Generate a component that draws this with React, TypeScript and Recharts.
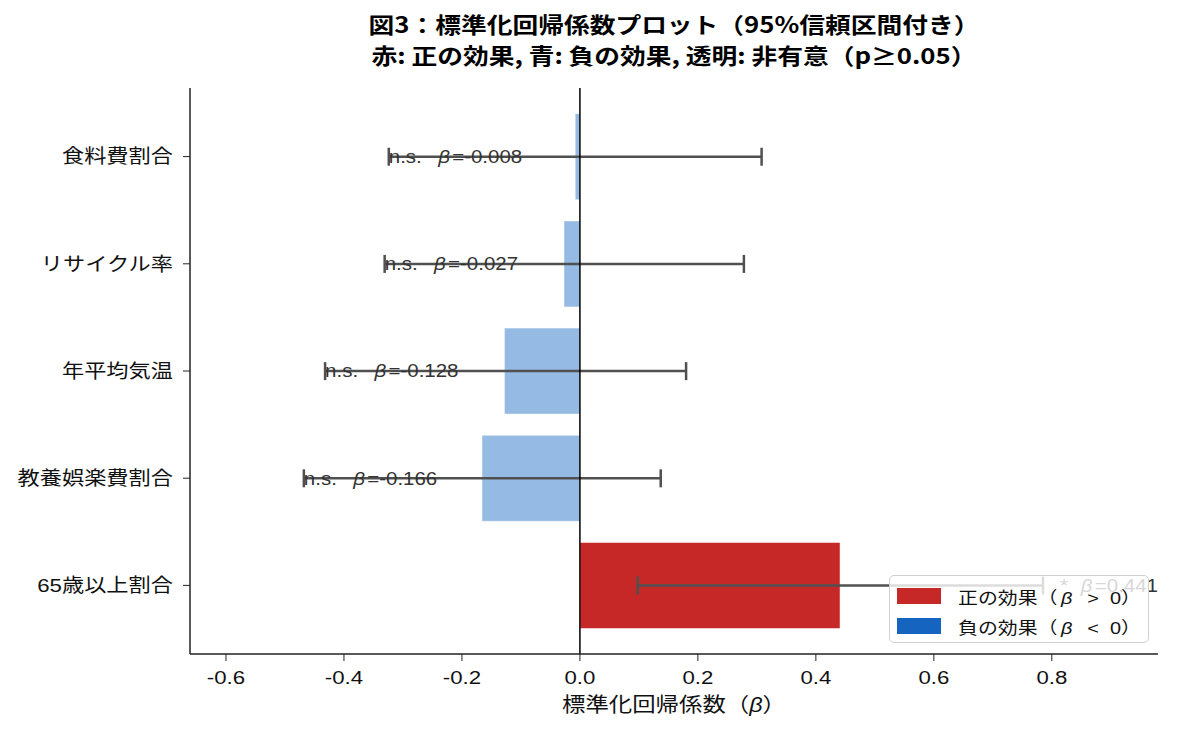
import {
  BarChart,
  Bar,
  XAxis,
  YAxis,
  Cell,
  ErrorBar,
  ReferenceLine,
  ReferenceDot,
  Label,
} from "recharts";

const categories = ["食料費割合", "リサイクル率", "年平均気温", "教養娯楽費割合", "65歳以上割合"];
const betas = [-0.008, -0.027, -0.128, -0.166, 0.441];
const ciLow = [-0.324, -0.331, -0.432, -0.468, 0.098];
const ciHigh = [0.308, 0.278, 0.18, 0.137, 0.785];
const sigMarks = ["n.s.", "n.s.", "n.s.", "n.s.", "*"];
const xTicks = [-0.6, -0.4, -0.2, 0, 0.2, 0.4, 0.6, 0.8];
const legendItems = [
  { label: "正の効果（", sign: " >  0）", color: "#C62828" },
  { label: "負の効果（", sign: " <  0）", color: "#1565C0" },
];

const RED = "#C62828";
const BLUE = "#1565C0";
const FONT = "'Liberation Sans', 'Noto Sans CJK JP', sans-serif";
// the reference glyphs are a little wider than they are tall
const SX = 1.17;

const data = categories.map((name, i) => ({
  name,
  beta: betas[i],
  lo: ciLow[i],
  hi: ciHigh[i],
  err: [betas[i] - ciLow[i], ciHigh[i] - betas[i]],
  sig: sigMarks[i],
}));

type Row = (typeof data)[number];

function SText({ x, y, anchor = "start", children, ...rest }: any) {
  return (
    <g transform={`translate(${x},${y}) scale(${SX},1)`}>
      <text x={0} y={0} textAnchor={anchor} fontFamily={FONT} {...rest}>
        {children}
      </text>
    </g>
  );
}

function betaLabel(props: any, d: Row) {
  const vb = props.viewBox || {};
  const cx = (vb.x ?? 0) + (vb.width ?? 0) / 2;
  const cy = (vb.y ?? 0) + (vb.height ?? 0) / 2;
  const pos = d.beta > 0;
  return (
    <SText x={cx + (pos ? 17 : 0)} y={cy} dominantBaseline="central" fontSize={17.5} fill="#333">
      <tspan>{d.sig}</tspan>
      <tspan dx={pos ? 11 : 14} fontStyle="italic">β</tspan>
      <tspan dx={2}>={d.beta.toFixed(3)}</tspan>
    </SText>
  );
}

export default function App() {
  return (
    <div style={{ position: "relative", width: 1180, height: 735, fontFamily: FONT, background: "#fff" }}>
      <style>{"body{margin:0}"}</style>
      <div
        style={{
          position: "absolute",
          left: 190,
          width: 968,
          top: 8,
          textAlign: "center",
          fontWeight: 700,
          fontSize: 22,
          lineHeight: "31px",
          color: "#000",
          transform: `scaleX(${SX})`,
          transformOrigin: "center",
          fontFamily: "'Noto Sans CJK JP', sans-serif",
        }}
      >
        <div>図3：標準化回帰係数プロット（95%信頼区間付き）</div>
        <div>赤: 正の効果, 青: 負の効果, 透明: 非有意（p≥0.05）</div>
      </div>
      <BarChart
        width={1180}
        height={735}
        data={data}
        layout="vertical"
        margin={{ top: 88, right: 22, bottom: 21, left: 0 }}
        barCategoryGap="10%"
      >
        <XAxis
          type="number"
          domain={[-0.661, 0.98]}
          allowDataOverflow
          ticks={xTicks}
          height={60}
          tickSize={7}
          tickMargin={10}
          axisLine={{ stroke: "#222", strokeWidth: 1.5 }}
          tickLine={{ stroke: "#222" }}
          tick={(p: any) => (
            <SText x={p.x} y={p.y} anchor="middle" dy="0.71em" fontSize={19} fill="#111">
              {Number(p.payload.value).toFixed(1)}
            </SText>
          )}
        >
          <Label
            content={(p: any) => {
              const vb = p.viewBox;
              return (
                <SText
                  x={vb.x + vb.width / 2}
                  y={vb.y + 51}
                  anchor="middle"
                  dominantBaseline="central"
                  fontSize={20}
                  fill="#111"
                >
                  標準化回帰係数（<tspan fontStyle="italic">β</tspan>）
                </SText>
              );
            }}
          />
        </XAxis>
        <YAxis
          type="category"
          dataKey="name"
          width={190}
          padding={{ top: 15, bottom: 15 }}
          tickSize={7}
          tickMargin={10}
          axisLine={{ stroke: "#222", strokeWidth: 1.5 }}
          tickLine={{ stroke: "#222" }}
          tick={(p: any) => (
            <SText x={p.x} y={p.y} anchor="end" dominantBaseline="central" fontSize={19} fill="#111">
              {p.payload.value}
            </SText>
          )}
        />
        <Bar dataKey="beta" isAnimationActive={false} stroke="#fff" strokeOpacity={0.5}>
          {data.map((d) => (
            <Cell
              key={d.name}
              fill={d.beta > 0 ? RED : BLUE}
              fillOpacity={d.sig === "n.s." ? 0.45 : 1}
            />
          ))}
          <ErrorBar dataKey="err" direction="x" width={9} stroke="#505050" strokeWidth={2.5} />
        </Bar>
        <ReferenceLine x={0} stroke="#000" strokeWidth={1.5} />
        {data.map((d) => (
          <ReferenceDot
            key={"lbl" + d.name}
            x={d.beta > 0 ? d.hi : d.lo}
            y={d.name}
            r={0}
            fill="none"
            stroke="none"
            label={{ content: (p: any) => betaLabel(p, d) }}
          />
        ))}
      </BarChart>
      <div
        style={{
          position: "absolute",
          left: 889,
          top: 575,
          width: 260,
          height: 68,
          background: "rgba(255,255,255,0.8)",
          border: "1.5px solid #d0d0d0",
          borderRadius: 5,
          boxSizing: "border-box",
          padding: "5px 0 0 7px",
          fontSize: 17,
          color: "#111",
        }}
      >
        {legendItems.map((it) => (
          <div key={it.label} style={{ display: "flex", alignItems: "center", height: 30 }}>
            <span style={{ display: "inline-block", width: 44, height: 16, background: it.color, marginRight: 17 }} />
            <span
              style={{
                display: "inline-block",
                whiteSpace: "pre",
                transform: `scaleX(${SX})`,
                transformOrigin: "left center",
              }}
            >
              {it.label}
              <i style={{ marginLeft: 3, marginRight: 8 }}>β</i>
              {it.sign}
            </span>
          </div>
        ))}
      </div>
    </div>
  );
}
